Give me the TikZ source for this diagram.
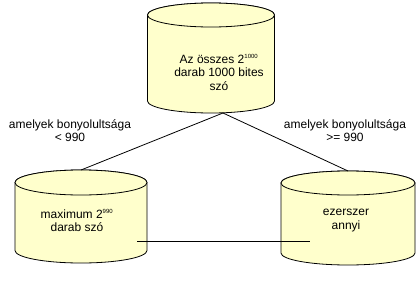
\documentclass[tikz,border=0pt]{standalone}
\usepackage{fontspec}
\setmainfont{Liberation Sans}
\usetikzlibrary{calc}
\definecolor{cylfill}{RGB}{255,255,204}
% draws a standing cylinder filling the box of node #1, with end ellipses of half-height #2 (pt)
\newcommand\storeshape[2]{%
  \filldraw[storeline] let \p1=(#1.north west), \p2=(#1.south east), \n1={(\x2-\x1)/2} in
    (\x1,{\y1-#2pt}) -- (\x1,{\y2+#2pt})
    arc[start angle=180, end angle=360, x radius=\n1, y radius=#2pt]
    -- (\x2,{\y1-#2pt})
    arc[start angle=0, end angle=180, x radius=\n1, y radius=#2pt] -- cycle;
  \draw[storeline] let \p1=(#1.north west), \p2=(#1.south east), \n1={(\x2-\x1)/2} in
    ({(\x1+\x2)/2},{\y1-#2pt}) ellipse [x radius=\n1, y radius=#2pt];
}
\begin{document}
\begin{tikzpicture}[x=1pt,y=-1pt,
  storebox/.style={rectangle, inner sep=0pt, outer sep=0pt},
  storeline/.style={draw=black, fill=cylfill, line width=0.8pt},
  txt/.style={align=center, font=\fontsize{12}{13.5}\selectfont, inner sep=0pt},
  link/.style={draw=black, line width=0.8pt}]
\useasboundingbox (0,0) rectangle (416,284);

% the three stores
\node[storebox, minimum width=127pt, minimum height=110pt] (all) at (211,58) {};
\node[storebox, minimum width=132pt, minimum height=93pt] (low) at (81,216.5) {};
\node[storebox, minimum width=134pt, minimum height=94pt] (high) at (348,218) {};
\storeshape{all}{12}
\storeshape{low}{12.5}
\storeshape{high}{12}

% texts inside the stores
\node[txt] (allt) at (219,72.5) {Az összes 2\textsuperscript{\fontsize{6}{6}\selectfont 1000}\\darab 1000 bites\\szó};
\node[txt] (lowt) at (77,220.5) {maximum 2\textsuperscript{\fontsize{6}{6}\selectfont 990}\\darab szó};
\node[txt] (hight) at (346,220.5) {ezerszer\\annyi};

% branch labels
\node[txt] (lowl) at (70,130.5) {amelyek bonyolultsága\\< 990};
\node[txt] (highl) at (345,130.5) {amelyek bonyolultsága\\>= 990};

% connectors
\coordinate (split) at ([xshift=12pt]all.south);
\draw[link] (split) -- (low.north);
\draw[link] (split) -- (high.north);
\coordinate (hl) at (137,241);
\coordinate (hr) at ($(hl -| high.west)+(29,0)$);
\draw[link] (hl) -- (hr);
\end{tikzpicture}
\end{document}
